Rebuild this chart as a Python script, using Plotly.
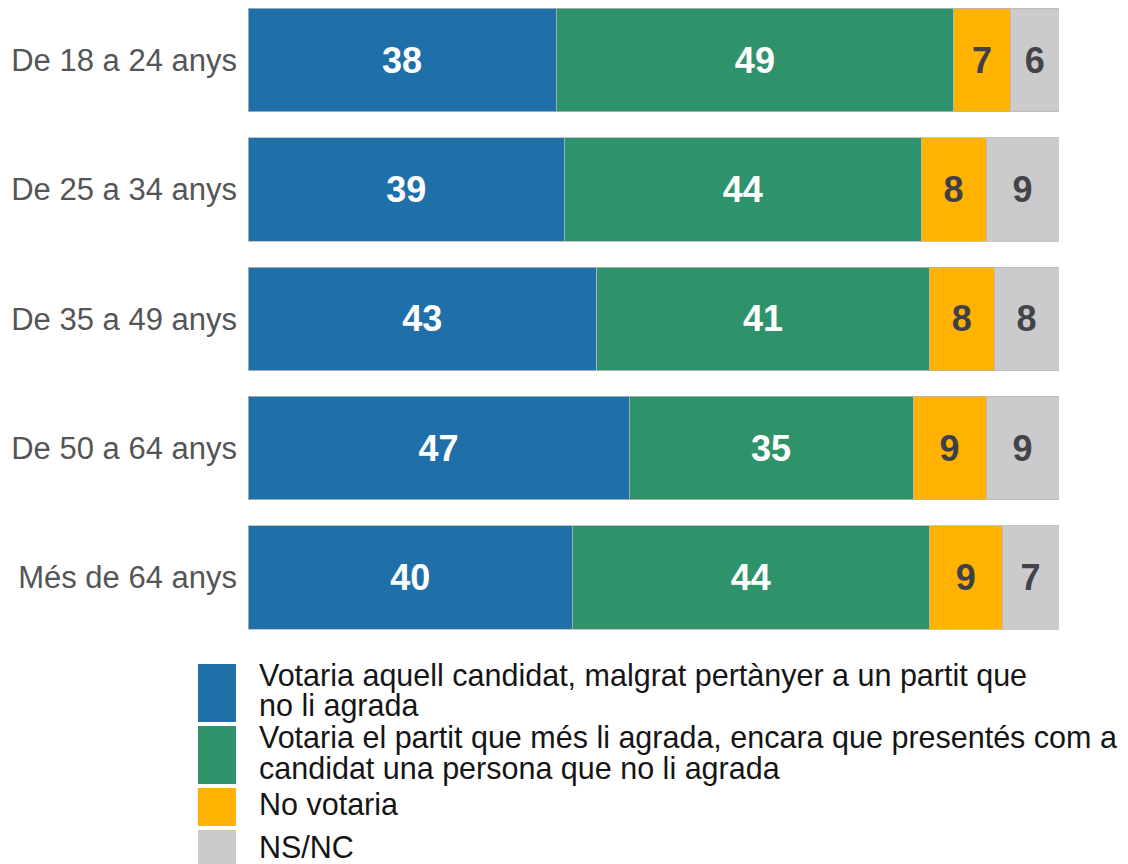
import plotly.graph_objects as go

# Survey results by age group (percent)
age_groups = ["De 18 a 24 anys", "De 25 a 34 anys", "De 35 a 49 anys",
              "De 50 a 64 anys", "Més de 64 anys"]
candidate = [38, 39, 43, 47, 40]
party = [49, 44, 41, 35, 44]
no_vote = [7, 8, 8, 9, 9]
dk_na = [6, 9, 8, 9, 7]

series_names = [
    "Votaria aquell candidat, malgrat pertànyer a un partit que\nno li agrada",
    "Votaria el partit que més li agrada, encara que presentés com a\ncandidat una persona que no li agrada",
    "No votaria",
    "NS/NC",
]
series_values = [candidate, party, no_vote, dk_na]
series_colors = ["#1f6fa8", "#2e936a", "#ffb300", "#cbcbcd"]
label_colors = ["#ffffff", "#ffffff", "#3f3f4c", "#444448"]

W, H = 1128, 864
ML, MR, MT, MB = 248, 69, 0, 219
PW, PH = W - ML - MR, H - MT - MB

FONT = "Liberation Sans, Arial, Helvetica, sans-serif"

fig = go.Figure()
for name, vals, col, tcol in zip(series_names, series_values, series_colors, label_colors):
    fig.add_trace(go.Bar(
        y=age_groups, x=vals, orientation="h", name=name.replace("\n", " "),
        marker=dict(color=col, line=dict(color="#b8b8b8", width=0.8)),
        text=[str(v) for v in vals], textposition="inside",
        insidetextanchor="middle", textangle=0,
        textfont=dict(family=FONT, size=36, color=tcol, weight="bold"),
        width=0.8, showlegend=False, hoverinfo="skip",
    ))


def px_x(px):
    return (px - ML) / PW


def px_y(py):
    return (H - MB - py) / PH


# Legend drawn below the plot: colour keys with wrapped labels
shapes, annotations = [], []
top = 664
line_step = 31
fs = 30.5
for name, col in zip(series_names, series_colors):
    lines = name.split("\n")
    h = 38 + 20 * (len(lines) - 1)
    shapes.append(dict(type="rect", xref="paper", yref="paper",
                       x0=px_x(198), x1=px_x(236), y0=px_y(top + h), y1=px_y(top),
                       fillcolor=col, line=dict(color=col, width=0), layer="above"))
    mid = top + h / 2 - 2.5
    first = mid - line_step * (len(lines) - 1) / 2
    for i, ln in enumerate(lines):
        annotations.append(dict(
            xref="paper", yref="paper", x=px_x(257), y=px_y(first + i * line_step),
            xanchor="left", yanchor="middle", text=ln, showarrow=False,
            font=dict(family=FONT, size=fs, color="#151515"),
        ))
    top += h + 4

fig.update_layout(
    barmode="stack",
    width=W, height=H,
    margin=dict(l=ML, r=MR, t=MT, b=MB, pad=0),
    paper_bgcolor="white", plot_bgcolor="white",
    bargap=0.2,
    xaxis=dict(range=[0, 100], visible=False, fixedrange=True),
    yaxis=dict(range=[4.5209, -0.4637], showgrid=False, zeroline=False,
               showline=False, ticks="", ticklabelstandoff=10,
               tickfont=dict(family=FONT, size=31, color="#555555")),
    shapes=shapes,
    annotations=annotations,
    uniformtext=dict(mode=False),
)

fig.write_html("out.html")
